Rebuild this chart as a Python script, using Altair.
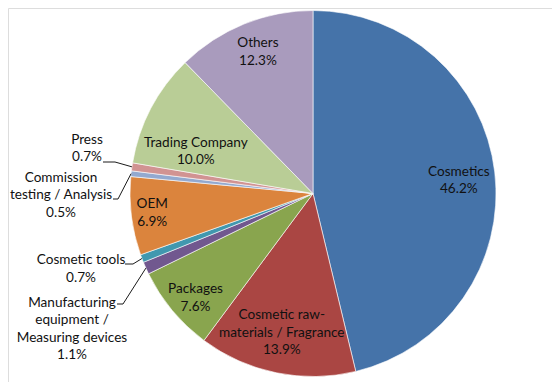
import math
import altair as alt
import pandas as pd

# ---- data ----
categories = ["Cosmetics", "Cosmetic raw-materials / Fragrance", "Packages",
              "Manufacturing equipment / Measuring devices", "Cosmetic tools", "OEM",
              "Commission testing / Analysis", "Press", "Trading Company", "Others"]
label_names = ["Cosmetics", "Cosmetic raw-\nmaterials / Fragrance", "Packages",
               "Manufacturing\nequipment /\nMeasuring devices", "Cosmetic tools", "OEM",
               "Commission\ntesting / Analysis", "Press", "Trading Company", "Others"]
values = [46.2, 13.9, 7.6, 1.1, 0.7, 6.9, 0.5, 0.7, 10.0, 12.3]
colors = ["#4573A9", "#AA4643", "#89A54E", "#71588F", "#4198AF", "#DB843D",
          "#93A9CF", "#D19392", "#B9CD96", "#A99BBD"]

# ---- layout (pixels in plot area) ----
W, H = 544, 374
CX, CY, R = 305, 185.5, 183
FONT = "Lato"
FS, LH = 13.6, 17.6
# inside labels: category -> (angle shift deg, radius fraction)
inside = {"Cosmetics": (1.7, 0.80), "Cosmetic raw-materials / Fragrance": (1.1, 0.78),
          "Packages": (-2.0, 0.86), "OEM": (0.1, 0.885), "Trading Company": (-8.0, 0.68),
          "Others": (0.9, 0.83)}
# outside labels: category -> (text dx, text dy, elbow dx, elbow dy, end dx) relative to centre
outside = {"Press": (-226, -45, -198, -31.5, -210),
           "Commission testing / Analysis": (-252, 2, -195, 5.5, -200),
           "Cosmetic tools": (-232, 75.5, -180, 70.5, -188),
           "Manufacturing equipment / Measuring devices": (-241, 135.5, -190, 110.5, -196)}

df = pd.DataFrame({"cat": categories, "value": values, "idx": list(range(len(values)))})

total = sum(values)
cum = 0.0
text_rows, line_rows = [], []
for i, (c, v) in enumerate(zip(categories, values)):
    mid = (cum + v / 2) / total * 2 * math.pi
    cum += v
    label = f"{label_names[i]}\n{v:.1f}%"
    nlines = label.count("\n") + 1
    shift_up = (nlines - 1) * LH / 2
    if c in inside:
        shift, frac = inside[c]
        a = mid + math.radians(shift)
        text_rows.append({"cat": c, "label": label,
                          "x": CX + frac * R * math.sin(a),
                          "y": CY - frac * R * math.cos(a) - shift_up})
    else:
        tdx, tdy, edx, edy, endx = outside[c]
        text_rows.append({"cat": c, "label": label, "x": CX + tdx, "y": CY + tdy - shift_up})
        pts = [(CX + R * math.sin(mid), CY - R * math.cos(mid)),
               (CX + edx, CY + edy), (CX + endx, CY + edy)]
        for k, (px, py) in enumerate(pts):
            line_rows.append({"cat": c, "k": k, "x": px, "y": py})

tdf = pd.DataFrame(text_rows)
ldf = pd.DataFrame(line_rows)

pie = alt.Chart(df).mark_arc(radius=R, stroke="white", strokeWidth=0.6).encode(
    theta=alt.Theta("value:Q", stack=True),
    color=alt.Color("cat:N", scale=alt.Scale(domain=categories, range=colors), legend=None),
    order=alt.Order("idx:Q"),
    x=alt.value(CX), y=alt.value(CY),
)

leaders = alt.Chart(ldf).mark_line(color="#1a1a1a", strokeWidth=1).encode(
    x=alt.X("x:Q", scale=None), y=alt.Y("y:Q", scale=None),
    detail="cat:N", order="k:Q",
)

texts = alt.Chart(tdf).mark_text(font=FONT, fontSize=FS, lineHeight=LH, lineBreak="\n",
                                 align="center", baseline="middle", color="#111111").encode(
    x=alt.X("x:Q", scale=None), y=alt.Y("y:Q", scale=None), text="label:N",
)

chart = alt.layer(pie, leaders, texts).properties(
    width=W, height=H, padding=0, autosize=alt.AutoSizeParams(type="none"),
).configure_view(stroke=None).configure(background="white")

chart.save("out.html", embed_options={"renderer": "svg", "actions": False})
